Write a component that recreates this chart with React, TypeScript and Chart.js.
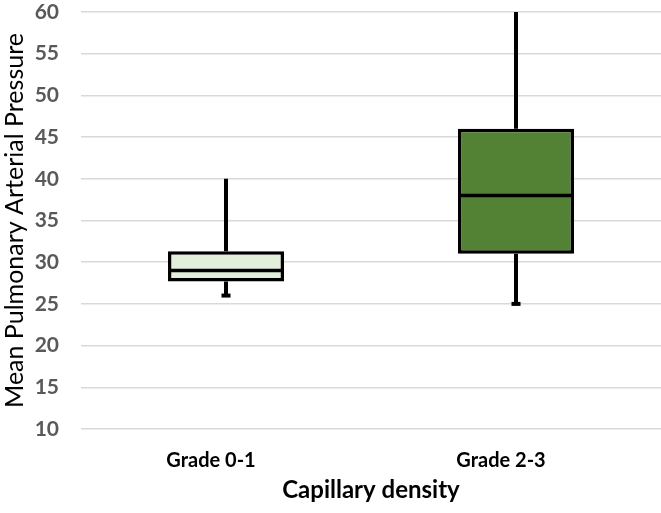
import React, { useEffect, useRef } from "react";
import { Chart, registerables } from "chart.js";

Chart.register(...registerables);

const categories = ["Grade 0-1", "Grade 2-3"];
const minValues = [26, 25];
const q1Values = [27.7, 31];
const medianValues = [29, 38];
const q3Values = [31.3, 46];
const maxValues = [40, 60];
const boxColors = ["#E2EFDA", "#548235"];
const yTitle = "Mean Pulmonary Arterial Pressure";
const xTitle = "Capillary density";

const FONT = "Lato, 'Open Sans', sans-serif";

const boxPlugin = {
  id: "boxWhiskers",
  beforeDatasetsDraw(chart: any) {
    const { ctx } = chart;
    const meta = chart.getDatasetMeta(0);
    const y = chart.scales.y;
    ctx.save();
    ctx.strokeStyle = "#000";
    ctx.lineWidth = 4;
    meta.data.forEach((bar: any, i: number) => {
      const x = bar.x;
      ctx.beginPath();
      ctx.moveTo(x, y.getPixelForValue(q3Values[i]));
      ctx.lineTo(x, y.getPixelForValue(maxValues[i]));
      ctx.moveTo(x, y.getPixelForValue(q1Values[i]));
      ctx.lineTo(x, y.getPixelForValue(minValues[i]));
      ctx.stroke();
      const yMin = y.getPixelForValue(minValues[i]);
      ctx.beginPath();
      ctx.moveTo(x - 4.5, yMin);
      ctx.lineTo(x + 4.5, yMin);
      ctx.stroke();
    });
    ctx.restore();
  },
  afterDatasetsDraw(chart: any) {
    const { ctx } = chart;
    const meta = chart.getDatasetMeta(0);
    const y = chart.scales.y;
    ctx.save();
    ctx.strokeStyle = "#000";
    ctx.lineWidth = 3.5;
    meta.data.forEach((bar: any, i: number) => {
      const half = bar.width / 2;
      const ym = y.getPixelForValue(medianValues[i]);
      ctx.beginPath();
      ctx.moveTo(bar.x - half, ym);
      ctx.lineTo(bar.x + half, ym);
      ctx.stroke();
    });
    ctx.restore();
  },
};

export default function App() {
  const ref = useRef<HTMLCanvasElement | null>(null);
  useEffect(() => {
    if (!ref.current) return;
    const chart = new Chart(ref.current, {
      type: "bar",
      data: {
        labels: categories,
        datasets: [
          {
            data: categories.map((_, i) => [q1Values[i], q3Values[i]]) as any,
            backgroundColor: boxColors,
            borderColor: "#000",
            borderWidth: 3.5,
            borderSkipped: false,
            barPercentage: 0.4,
            categoryPercentage: 1,
          },
        ],
      },
      options: {
        responsive: false,
        animation: false,
        layout: { padding: { top: 12, right: 0, left: 0, bottom: 0 } },
        plugins: {
          legend: { display: false },
          tooltip: { enabled: false },
        },
        scales: {
          x: {
            grid: { display: false },
            border: { display: false },
            ticks: {
              color: "#000",
              font: { family: FONT, size: 20, weight: "bold" },
              padding: 12,
              labelOffset: -15,
            },
            title: {
              display: true,
              text: xTitle,
              color: "#000",
              font: { family: FONT, size: 24, weight: "bold" },
              padding: { top: 0, bottom: 8 },
            },
            afterFit(scale: any) {
              scale.height = 84;
              scale.paddingLeft = 0;
              scale.paddingRight = 0;
            },
          },
          y: {
            min: 10,
            max: 60,
            ticks: {
              stepSize: 5,
              color: "#595959",
              font: { family: FONT, size: 21, weight: "bold" },
              padding: 22,
            },
            grid: { color: "#d9d9d9", lineWidth: 1.5, drawTicks: false },
            border: { display: false },
            title: {
              display: true,
              text: yTitle,
              color: "#000",
              font: { family: FONT, size: 25 },
              padding: { top: 0, bottom: 0 },
            },
            afterFit(scale: any) {
              scale.width = 81;
              scale.paddingTop = 0;
              scale.paddingBottom = 0;
            },
          },
        },
      },
      plugins: [boxPlugin],
    });
    return () => chart.destroy();
  }, []);
  return (
    <div style={{ position: "fixed", left: 0, top: 0, width: 661, height: 513, background: "#fff" }}>
      <canvas ref={ref} width={661} height={513} />
    </div>
  );
}
